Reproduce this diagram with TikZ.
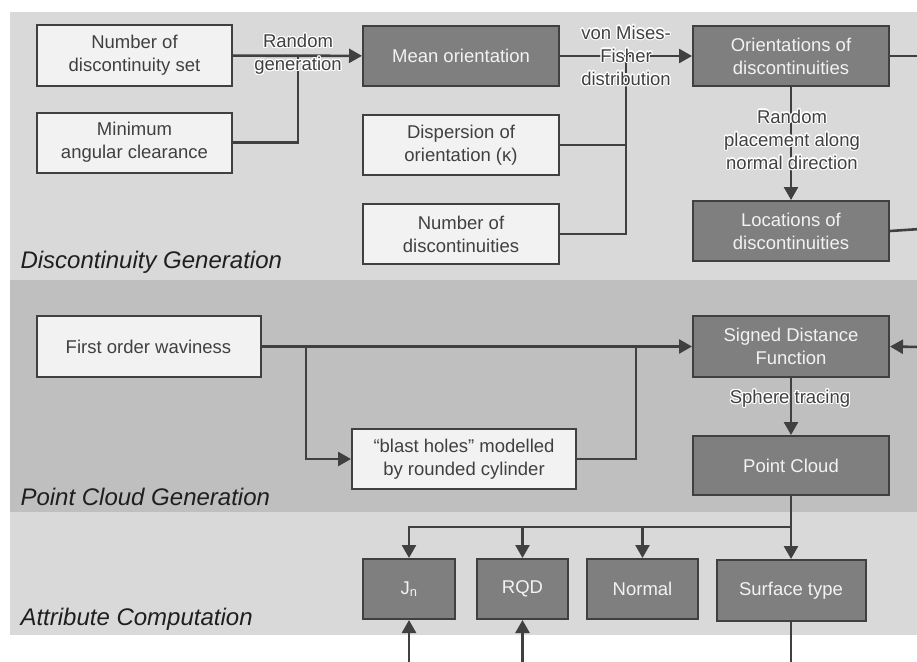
\documentclass[tikz,border=0pt]{standalone}
\usepackage{fontspec}
\setmainfont{Liberation Sans}
\usepackage{contour}
\contourlength{1.1pt}
\usetikzlibrary{positioning, arrows.meta}

\definecolor{bandA}{HTML}{D9D9D9}
\definecolor{bandB}{HTML}{BFBFBF}
\definecolor{boxlight}{HTML}{F2F2F2}
\definecolor{boxdark}{HTML}{7F7F7F}
\definecolor{ink}{HTML}{404040}

\newcommand{\glowtext}[1]{\contour{white}{#1}}

\begin{document}
\begin{tikzpicture}[x=1pt, y=-1pt, node distance=25pt,
        >={Triangle[length=13pt,width=14pt]},
        every node/.style={font=\fontsize{18.5}{23}\selectfont},
        inbox/.style={draw=ink, line width=2pt, fill=boxlight, text=ink, align=center,
                      minimum width=195pt, minimum height=60pt, inner sep=2pt},
        procbox/.style={inbox, fill=boxdark, text=boxlight},
        flow/.style={draw=ink, line width=2.6pt},
        lab/.style={text=ink, align=center, inner sep=0pt},
        band/.style={font=\fontsize{24}{28}\selectfont\itshape, anchor=west, text=black!88}]
        \useasboundingbox (0,0) rectangle (917,661);

        % bands
        \fill[bandA] (10,12)  rectangle (920,280);
        \fill[bandB] (10,280) rectangle (920,512);
        \fill[bandA] (10,512) rectangle (920,635);

        \node[band] (T0) at (17,262) {Discontinuity Generation};
        \node[band] (T1) at (17,497) {Point Cloud Generation};
        \node[band] (T2) at (17,619) {Attribute Computation};

        % discontinuity generation
        \node[inbox]                                        (A0) at (134.5,55.5) {Number of\\discontinuity set};
        \node[inbox, below=of A0]                           (A1) {Minimum\\angular clearance};
        \node[procbox, minimum width=196pt]                 (A2) at (461,56) {Mean orientation};
        \node[inbox, minimum width=196pt, below=27pt of A2] (A3) {Dispersion of\\orientation (κ)};
        \node[inbox, minimum width=196pt, below=27pt of A3] (A4) {Number of\\discontinuities};
        \node[procbox, minimum width=196pt]                 (A5) at (791,56) {Orientations of\\discontinuities};
        \node[procbox, minimum width=196pt, below=113pt of A5] (A6) {Locations of\\discontinuities};

        % point cloud generation
        \node[inbox, minimum width=224pt, minimum height=61pt]    (B0) at (148.5,346.5) {First order waviness};
        \node[inbox, minimum width=224pt]                         (B1) at (464,459) {“blast holes” modelled\\by rounded cylinder};
        \node[procbox, minimum width=196pt, minimum height=61pt]  (B2) at (791,346.5) {Signed Distance\\Function};
        \node[procbox, minimum width=196pt, minimum height=59pt]  (B3) at (791,465.5) {Point Cloud};

        % attribute computation
        \node[procbox, minimum width=92pt]                        (C0) at (409,589) {J\textsubscript{n}};
        \node[procbox, minimum width=91pt]                        (C1) at (522.5,589) {RQD};
        \node[procbox, minimum width=111pt]                       (C2) at (642.5,589) {Normal};
        \node[procbox, minimum width=149pt, minimum height=61pt]  (C3) at (791,590.5) {Surface type};

        \coordinate (J0) at (298,56);
        \coordinate (J1) at (626,56);
        \coordinate (J2) at (306,347);
        \coordinate (J3) at (636,347);
        \coordinate (J4) at (791,527);
        \coordinate (E0) at (920,56);
        \coordinate (E1) at (920,229);
        \coordinate (E2) at (920,347);
        \coordinate (Bot) at (0,664);

        \draw[flow, ->] (A0) -- (A2);
        \draw[flow] (A1.east) -| (J0);
        \draw[flow, ->] (A2) -- (A5);
        \draw[flow] (A3.east) -| (J1);
        \draw[flow] (A4.east) -| (J1);
        \draw[flow, ->] (A5) -- (A6);
        \draw[flow] (A5.east) -- (E0);
        \draw[flow] (A6.east) -- (E1);
        \draw[flow, ->] (E2) -- (B2.east);

        \draw[flow, ->] (B0) -- (B2);
        \draw[flow, ->] (J2) |- (B1.west);
        \draw[flow] (B1.east) -| (J3);
        \draw[flow, ->] (B2) -- (B3);

        \draw[flow, ->] (B3) -- (C3);
        \draw[flow, ->] (J4) -| (C0.north);
        \draw[flow, ->] (C1.north |- J4) -- (C1.north);
        \draw[flow, ->] (C2.north |- J4) -- (C2.north);
        \draw[flow, ->] (C0.south |- Bot) -- (C0.south);
        \draw[flow, ->] (C1.south |- Bot) -- (C1.south);
        \draw[flow] (C3.south) -- (C3.south |- Bot);

        % connector labels
        \node[lab] (L0) at (298,55)  {\glowtext{Random}\\\glowtext{generation}};
        \node[lab] (L1) at (626,56)  {\glowtext{von Mises-}\\\glowtext{Fisher}\\\glowtext{distribution}};
        \node[lab] (L2) at (792,140) {\glowtext{Random}\\\glowtext{placement along}\\\glowtext{normal direction}};
        \node[lab] (L3) at (790,399) {\glowtext{Sphere tracing}};
\end{tikzpicture}
\end{document}
